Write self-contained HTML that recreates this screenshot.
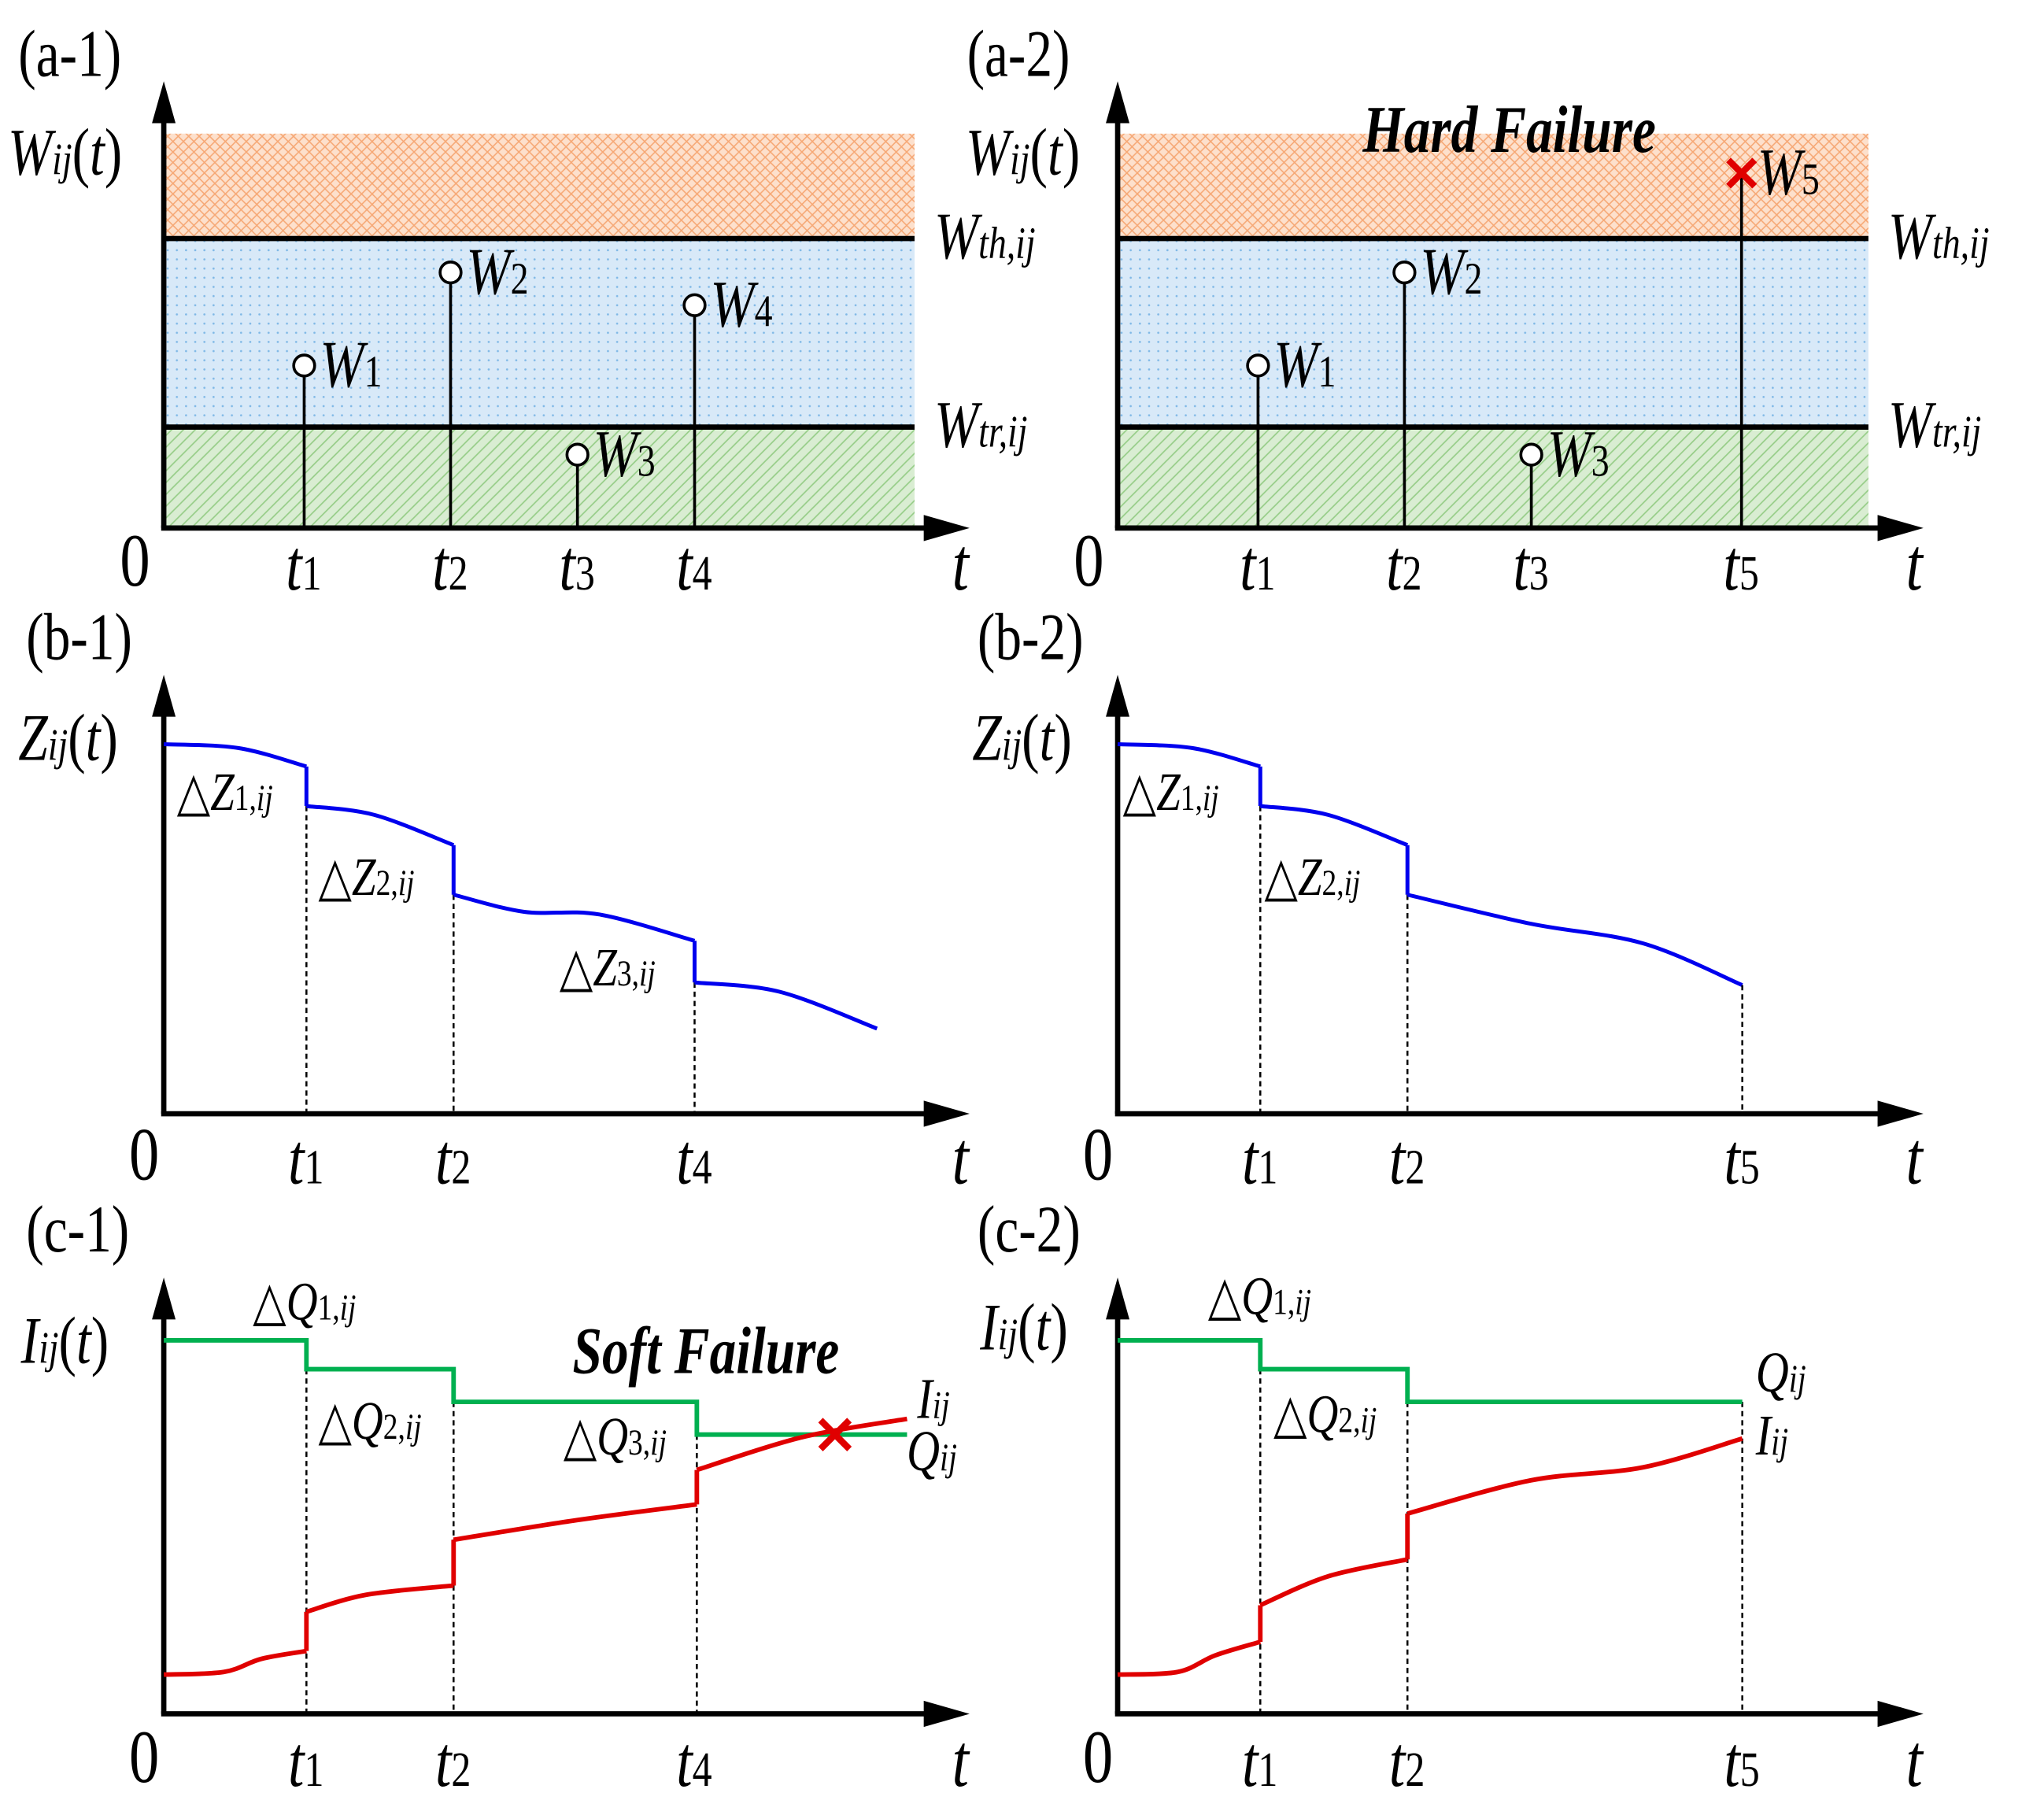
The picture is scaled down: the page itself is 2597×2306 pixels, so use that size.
<!DOCTYPE html>
<html><head><meta charset="utf-8">
<style>
html,body{margin:0;padding:0;background:#fff;}
svg{display:block;}
text{font-family:"Liberation Serif","DejaVu Serif",serif;}
</style></head>
<body>
<svg id="fig" width="2597" height="2306" viewBox="0 0 1560 1385.2" xmlns="http://www.w3.org/2000/svg">
<defs>
<pattern id="pOrange" width="8" height="8" patternUnits="userSpaceOnUse">
<rect width="8" height="8" fill="#fde0cc"/>
<path d="M0 0L8 8M8 0L0 8" stroke="#f6a774" stroke-width="0.9"/>
</pattern>
<pattern id="pBlue" width="7" height="7" patternUnits="userSpaceOnUse">
<rect width="7" height="7" fill="#d8e9f8"/>
<circle cx="2" cy="2" r="0.8" fill="#7fb8e6"/>
</pattern>
<pattern id="pGreen" width="9" height="9" patternUnits="userSpaceOnUse">
<rect width="9" height="9" fill="#d9edd2"/>
<path d="M-2 11L11 -2M-2 2L2 -2M7 11L11 7" stroke="#94cc85" stroke-width="1"/>
</pattern>
</defs>
<g id="root"></g>
</svg>
<script>
// ---------- data ----------
const aTimes1 = [18.7, 38.2, 55.1, 70.7];
const aVals1  = [41.2, 64.8, 18.6, 56.5];
const aNames1 = ['1','2','3','4'];
const aTimes2 = [18.7, 38.2, 55.1, 83.1];
const aVals2  = [41.2, 64.8, 18.6, 90];
const aNames2 = ['1','2','3','5'];
const wThreshold = 73.4;
const wTransition = 25.6;
const bSegs1 = [
  [[0,84.2],[10,83.3],[19,79.1]],
  [[19,70.1],[28,68.1],[38.6,61.2]],
  [[38.6,49.9],[48,46.0],[58,45.4],[70.7,39.4]],
  [[70.7,29.9],[82,27.8],[95,19.4]]
];
const bSegs2 = [
  [[0,84.2],[10,83.3],[19,79.1]],
  [[19,70.1],[28,68.1],[38.6,61.2]],
  [[38.6,49.9],[55,43.3],[70,38.8],[83.2,29.3]]
];
const bTicks1 = [19, 38.6, 70.7];
const bTickNames1 = ['1','2','4'];
const bTicks2 = [19, 38.6, 83.2];
const bTickNames2 = ['1','2','5'];
const qTimes1 = [0, 19, 38.6, 71, 99];
const qLevels1 = [85.6, 79.0, 71.5, 64.0];
const qTimes2 = [0, 19, 38.6, 83.2];
const qLevels2 = [85.6, 79.0, 71.5];
const iSegs1 = [
  [[0,9.0],[8,9.6],[13,12.6],[19,14.4]],
  [[19,23.4],[27,27.3],[38.6,29.4]],
  [[38.6,39.9],[55,44.4],[71,48.0]],
  [[71,55.9],[85,63.4],[99,67.6]]
];
const iSegs2 = [
  [[0,9.0],[8,9.6],[13,13.4],[19,16.5]],
  [[19,24.9],[28,31.5],[38.6,35.4]],
  [[38.6,45.9],[55,53.5],[70,56.5],[83.2,63.1]]
];
const softFailT = 89.4;

// ---------- helpers ----------
const NS='http://www.w3.org/2000/svg';
const root=document.getElementById('root');
function mk(tag,attrs,name,parent){
  const el=document.createElementNS(NS,tag);
  for(const k in attrs) el.setAttribute(k,attrs[k]);
  
  
  (parent||root).appendChild(el);
  return el;
}
const PW=573;
const SX=0.8, SZ=1.15;
function xs(x0,t){return x0+t/100*PW;}
function yA(v){return 403-v*3.01;}
function yB(v){return 850-v*3.35;}
function yC(v){return 1308-v*3.33;}
function label(x,y,parts,size,name,extra){
  size=size*SZ;
  const t=mk('text',Object.assign({x:0,y:0,'font-size':size,transform:`translate(${x} ${y}) scale(${SX} 1)`},extra||{}),name);
  parts.forEach(p=>{
    const ts=document.createElementNS(NS,'tspan');
    ts.textContent=p[0];
    if(p[1]==='i'){ts.setAttribute('font-style','italic');}
    if(p[1]==='s'){ts.setAttribute('font-size',size*0.68);}
    if(p[1]==='si'){ts.setAttribute('font-size',size*0.68);ts.setAttribute('font-style','italic');}
    t.appendChild(ts);
  });
  return t;
}
function smoothPath(pts){
  let d='M'+pts[0][0]+' '+pts[0][1];
  for(let i=0;i<pts.length-1;i++){
    const p0=pts[i-1]||pts[i],p1=pts[i],p2=pts[i+1],p3=pts[i+2]||p2;
    const c1=[p1[0]+(p2[0]-p0[0])/6,p1[1]+(p2[1]-p0[1])/6];
    const c2=[p2[0]-(p3[0]-p1[0])/6,p2[1]-(p3[1]-p1[1])/6];
    d+=' C'+c1[0]+' '+c1[1]+' '+c2[0]+' '+c2[1]+' '+p2[0]+' '+p2[1];
  }
  return d;
}
function axes(x0,yTop,yBot,pfx){
  mk('line',{x1:x0,y1:yBot,x2:x0,y2:yTop+28,stroke:'#000','stroke-width':4},pfx+'-y-axis');
  mk('path',{d:`M${x0} ${yTop} L${x0-9} ${yTop+32} L${x0+9} ${yTop+32}Z`,fill:'#000'},pfx+'-y-axis-arrow');
  mk('line',{x1:x0-2,y1:yBot,x2:x0+585,y2:yBot,stroke:'#000','stroke-width':4},pfx+'-x-axis');
  mk('path',{d:`M${x0+615} ${yBot} L${x0+580} ${yBot-10} L${x0+580} ${yBot+10}Z`,fill:'#000'},pfx+'-x-axis-arrow');
}
function tickLabels(x0,base,times,names,pfx,zeroDx){
  label(x0-22+(zeroDx||0),base-3,[['0','n']],50,pfx+'-origin-label',{'text-anchor':'middle'});
  times.forEach((t,i)=>{
    label(xs(x0,t)-14,base,[['t','i'],[names[i],'s']],48,pfx+'-tick-label-t'+names[i]);
  });
  label(x0+608,base,[['t','i']],50,pfx+'-axis-label-t',{'text-anchor':'middle'});
}

// ---------- panel (a) ----------
function panelA(x0,times,vals,names,pfx,hard){
  mk('rect',{x:x0,y:102,width:PW,height:yA(wThreshold)-102,fill:'url(#pOrange)'},pfx+'-hard-failure-zone');
  mk('rect',{x:x0,y:yA(wThreshold),width:PW,height:yA(wTransition)-yA(wThreshold),fill:'url(#pBlue)'},pfx+'-damage-zone');
  mk('rect',{x:x0,y:yA(wTransition),width:PW,height:403-yA(wTransition),fill:'url(#pGreen)'},pfx+'-safe-zone');
  mk('line',{x1:x0,y1:yA(wThreshold),x2:x0+PW,y2:yA(wThreshold),stroke:'#000','stroke-width':4},pfx+'-threshold-line');
  mk('line',{x1:x0,y1:yA(wTransition),x2:x0+PW,y2:yA(wTransition),stroke:'#000','stroke-width':4},pfx+'-transition-line');
  axes(x0,62,403,pfx);
  times.forEach((t,i)=>{
    const x=xs(x0,t),y=yA(vals[i]);
    const isHard = hard && vals[i]>wThreshold;
    mk('line',{x1:x,y1:403,x2:x,y2:y+(isHard?0:8),stroke:'#000','stroke-width':2.2},pfx+'-shock-stem-'+names[i]);
    if(isHard){
      mk('path',{d:`M${x-10} ${y-10}L${x+10} ${y+10}M${x+10} ${y-10}L${x-10} ${y+10}`,stroke:'#e00000','stroke-width':5},pfx+'-hard-failure-marker');
    } else {
      mk('circle',{cx:x,cy:y,r:8,fill:'#fff',stroke:'#000','stroke-width':2.2},pfx+'-shock-marker-'+names[i]);
    }
    label(x+12,y+16,[['W','i'],[names[i],'s']],44,pfx+'-shock-label-w'+names[i]);
  });
  label(x0+588,yA(wThreshold)+15,[['W','i'],['th,ij','si']],44,pfx+'-threshold-label');
  label(x0+588,yA(wTransition)+15,[['W','i'],['tr,ij','si']],44,pfx+'-transition-label');
  tickLabels(x0,450,times,names,pfx);
}
label(14,58,[['(a-1)','n']],44,'panel-label-a1');
label(738,58,[['(a-2)','n']],44,'panel-label-a2');
label(6,133,[['W','i'],['ij','si'],['(','n'],['t','i'],[')','n']],44,'a1-y-axis-title');
label(737,133,[['W','i'],['ij','si'],['(','n'],['t','i'],[')','n']],44,'a2-y-axis-title');
panelA(125,aTimes1,aVals1,aNames1,'a1',false);
panelA(853,aTimes2,aVals2,aNames2,'a2',true);
label(1040,116,[['Hard Failure','n']],44,'hard-failure-title',{'font-weight':'bold','font-style':'italic'});

// ---------- panel (b) ----------
function panelB(x0,segs,ticks,tnames,pfx){
  axes(x0,515,850,pfx);
  segs.forEach((s,i)=>{
    const pts=s.map(p=>[xs(x0,p[0]),yB(p[1])]);
    mk('path',{d:smoothPath(pts),fill:'none',stroke:'#0000ee','stroke-width':3},pfx+'-z-curve-segment-'+(i+1));
    if(i<segs.length-1){
      const nx=segs[i+1][0];
      const last=s[s.length-1];
      mk('line',{x1:xs(x0,last[0]),y1:yB(last[1]),x2:xs(x0,nx[0]),y2:yB(nx[1]),stroke:'#0000ee','stroke-width':3},pfx+'-z-jump-'+(i+1));
      mk('line',{x1:xs(x0,nx[0]),y1:yB(nx[1]),x2:xs(x0,nx[0]),y2:850,stroke:'#000','stroke-width':1.5,'stroke-dasharray':'4 3'},pfx+'-dashed-guide-'+(i+1));
    }
  });
  const last=segs[segs.length-1];const lp=last[last.length-1];
  if(lp[0]>80 && lp[0]<90) mk('line',{x1:xs(x0,lp[0]),y1:yB(lp[1]),x2:xs(x0,lp[0]),y2:850,stroke:'#000','stroke-width':1.5,'stroke-dasharray':'4 3'},pfx+'-dashed-guide-end');
  tickLabels(x0,903,ticks,tnames,pfx,7);
}
label(20,503,[['(b-1)','n']],44,'panel-label-b1');
label(746,503,[['(b-2)','n']],44,'panel-label-b2');
label(14,580,[['Z','i'],['ij','si'],['(','n'],['t','i'],[')','n']],44,'b1-y-axis-title');
label(742,580,[['Z','i'],['ij','si'],['(','n'],['t','i'],[')','n']],44,'b2-y-axis-title');
panelB(125,bSegs1,bTicks1,bTickNames1,'b1');
panelB(853,bSegs2,bTicks2,bTickNames2,'b2');
const dz=[[135,618,'1'],[243,683,'2'],[427,752,'3']];
dz.forEach(d=>label(d[0],d[1],[['△','n'],['Z','i'],[d[2]+',','s'],['ij','si']],36,'b1-delta-z'+d[2]+'-label'));
dz.slice(0,2).forEach(d=>label(d[0]+722,d[1],[['△','n'],['Z','i'],[d[2]+',','s'],['ij','si']],36,'b2-delta-z'+d[2]+'-label'));

// ---------- panel (c) ----------
function panelC(x0,qT,qL,iSegs,ticks,tnames,pfx){
  axes(x0,975,1308,pfx);
  let d='';
  qL.forEach((v,i)=>{
    d+=(i===0?'M':'L')+xs(x0,qT[i])+' '+yC(v)+' L'+xs(x0,qT[i+1])+' '+yC(v)+' ';
  });
  for(let i=1;i<qL.length;i++){
    mk('line',{x1:xs(x0,qT[i]),y1:yC(qL[i]),x2:xs(x0,qT[i]),y2:1308,stroke:'#000','stroke-width':1.5,'stroke-dasharray':'4 3'},pfx+'-dashed-guide-'+i);
  }
  if(qT[qT.length-1]<90) mk('line',{x1:xs(x0,qT[qT.length-1]),y1:yC(qL[qL.length-1]),x2:xs(x0,qT[qT.length-1]),y2:1308,stroke:'#000','stroke-width':1.5,'stroke-dasharray':'4 3'},pfx+'-dashed-guide-end');
  mk('path',{d:d,fill:'none',stroke:'#00b050','stroke-width':3.5},pfx+'-q-threshold-line');
  iSegs.forEach((s,i)=>{
    const pts=s.map(p=>[xs(x0,p[0]),yC(p[1])]);
    mk('path',{d:smoothPath(pts),fill:'none',stroke:'#e00000','stroke-width':3.5},pfx+'-i-curve-segment-'+(i+1));
    if(i<iSegs.length-1){
      const nx=iSegs[i+1][0],last=s[s.length-1];
      mk('line',{x1:xs(x0,last[0]),y1:yC(last[1]),x2:xs(x0,nx[0]),y2:yC(nx[1]),stroke:'#e00000','stroke-width':3.5},pfx+'-i-jump-'+(i+1));
    }
  });
  tickLabels(x0,1363,ticks,tnames,pfx,7);
}
label(20,955,[['(c-1)','n']],44,'panel-label-c1');
label(746,955,[['(c-2)','n']],44,'panel-label-c2');
label(16,1040,[['I','i'],['ij','si'],['(','n'],['t','i'],[')','n']],44,'c1-y-axis-title');
label(748,1030,[['I','i'],['ij','si'],['(','n'],['t','i'],[')','n']],44,'c2-y-axis-title');
panelC(125,qTimes1,qLevels1,iSegs1,bTicks1,bTickNames1,'c1');
panelC(853,qTimes2,qLevels2,iSegs2,bTicks2,bTickNames2,'c2');
{
  const x=xs(125,softFailT),y=yC(qLevels1[3]);
  mk('path',{d:`M${x-11} ${y-11}L${x+11} ${y+11}M${x+11} ${y-11}L${x-11} ${y+11}`,stroke:'#e00000','stroke-width':5},'c1-soft-failure-marker');
}
label(437,1048,[['Soft Failure','n']],44,'soft-failure-title',{'font-weight':'bold','font-style':'italic'});
label(193,1007,[['△','n'],['Q','i'],['1,','s'],['ij','si']],36,'c1-delta-q1-label');
label(243,1098,[['△','n'],['Q','i'],['2,','s'],['ij','si']],36,'c1-delta-q2-label');
label(430,1110,[['△','n'],['Q','i'],['3,','s'],['ij','si']],36,'c1-delta-q3-label');
label(922,1003,[['△','n'],['Q','i'],['1,','s'],['ij','si']],36,'c2-delta-q1-label');
label(972,1093,[['△','n'],['Q','i'],['2,','s'],['ij','si']],36,'c2-delta-q2-label');
label(700,1082,[['I','i'],['ij','si']],38,'c1-i-series-label');
label(692,1122,[['Q','i'],['ij','si']],38,'c1-q-series-label');
label(1340,1062,[['Q','i'],['ij','si']],38,'c2-q-series-label');
label(1340,1110,[['I','i'],['ij','si']],38,'c2-i-series-label');
</script>
</body></html>
